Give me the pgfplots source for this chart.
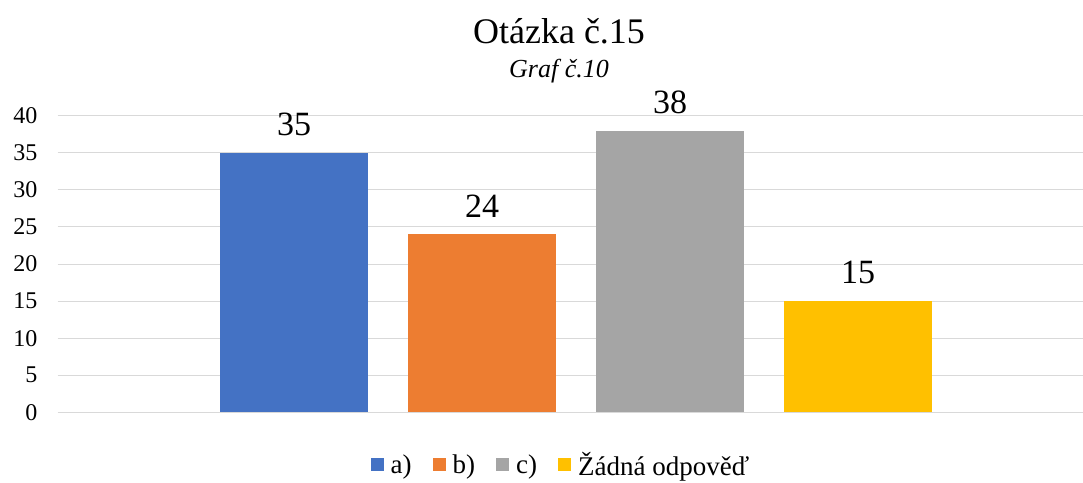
\documentclass[border=0pt]{standalone}
\usepackage{fontspec}
\setmainfont{Liberation Serif}
\usepackage{pgfplots}
\pgfplotsset{compat=1.18}
\definecolor{cA}{HTML}{4472C4}
\definecolor{cB}{HTML}{ED7D31}
\definecolor{cC}{HTML}{A5A5A5}
\definecolor{cD}{HTML}{FFC000}
\definecolor{gridc}{HTML}{D9D9D9}
\begin{document}
\begin{tikzpicture}[x=1pt,y=1pt]
\path[use as bounding box] (0,0) rectangle (1083,482);
\begin{axis}[
  at={(57.5pt,69.7pt)}, anchor=south west,
  scale only axis, width=1025.5pt, height=296.6pt,
  xmin=57.5, xmax=1083, ymin=0, ymax=40,
  ytick={0,5,...,40}, xtick=\empty,
  ymajorgrids, grid style={gridc, line width=1pt},
  axis line style={draw=none},
  major tick length=0pt,
  /pgf/number format/assume math mode=true,
  yticklabel style={anchor=east, inner sep=0pt, xshift=-20pt, font=\fontsize{24}{28}\selectfont},
  ybar, bar shift=0pt, bar width=148pt,
  nodes near coords,
  every node near coord/.append style={anchor=south, inner sep=0pt, yshift=17pt, font=\fontsize{34}{40}\selectfont, text=black},
  legend columns=4,
  legend style={at={(0.49,-0.176)}, anchor=center, draw=none, fill=none,
    font=\fontsize{27}{32}\selectfont, inner sep=0pt,
    nodes={inner sep=0pt},
    /tikz/every odd column/.append style={column sep=7pt},
    /tikz/every even column/.append style={column sep=21pt},
    cells={anchor=west}},
  legend image code/.code={\fill[#1] (0pt,-6.5pt) rectangle (13pt,6.5pt);},
]
\addplot[fill=cA, draw=none] coordinates {(294,35)};
\addplot[fill=cB, draw=none] coordinates {(482,24)};
\addplot[fill=cC, draw=none] coordinates {(670,38)};
\addplot[fill=cD, draw=none] coordinates {(858,15)};
\legend{a),b),c),Žádná odpověď}
\end{axis}
\node[anchor=base, inner sep=0pt, font=\fontsize{36}{42}\selectfont] at (559,438.7) {Otázka č.15};
\node[anchor=base, inner sep=0pt, font=\fontsize{26}{30}\selectfont\itshape] at (559,404.7) {Graf č.10};
\end{tikzpicture}
\end{document}
